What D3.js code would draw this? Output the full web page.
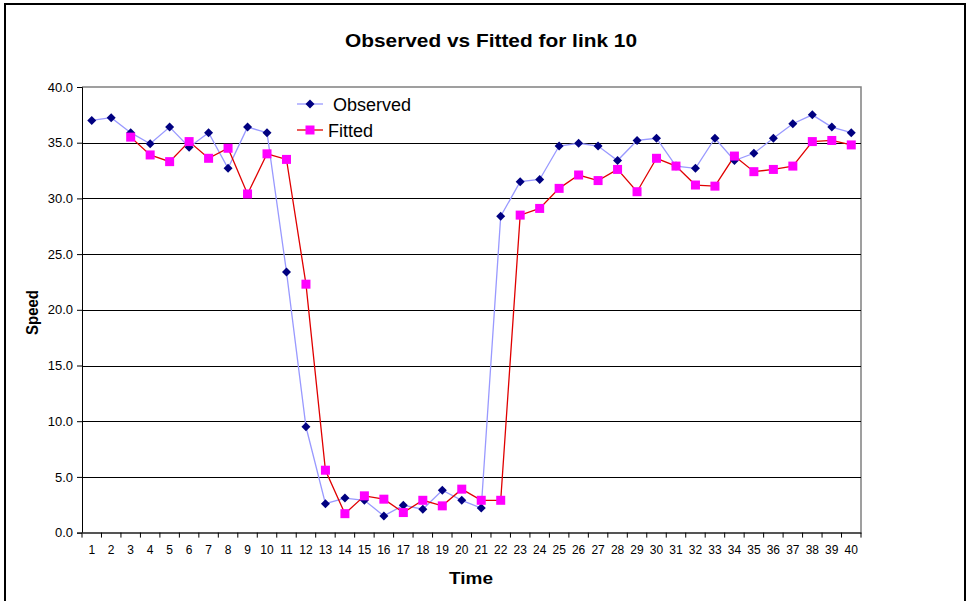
<!DOCTYPE html>
<html><head><meta charset="utf-8">
<script src="https://cdn.jsdelivr.net/npm/d3@7/dist/d3.min.js"></script>
<style>body{margin:0;background:#fff}svg{display:block;font-family:"Liberation Sans",Arial,sans-serif}</style>
</head><body><svg id="c" width="968" height="601"></svg>
<script>
const times = d3.range(1, 41);
const observed = [37.0,37.25,35.9,34.9,36.4,34.6,35.9,32.7,36.4,35.9,23.4,9.5,2.6,3.1,2.9,1.5,2.45,2.1,3.8,2.9,2.2,28.4,31.5,31.7,34.7,34.95,34.7,33.4,35.2,35.4,32.9,32.7,35.4,33.4,34.05,35.4,36.7,37.5,36.4,35.9];
const fitted = [null,null,35.5,33.9,33.3,35.1,33.6,34.5,30.4,34.0,33.5,22.3,5.6,1.7,3.3,3.0,1.8,2.9,2.4,3.9,2.9,2.9,28.5,29.1,30.9,32.1,31.6,32.6,30.6,33.6,32.9,31.2,31.1,33.8,32.4,32.6,32.9,35.1,35.2,34.8];
const yTicks = [0,5,10,15,20,25,30,35,40];

const svg = d3.select("#c");
const L = 82, R = 861, T = 87, B = 532.6;
const x = d3.scaleBand().domain(times).range([L, R]);
const y = d3.scaleLinear().domain([0, 40]).range([B, T]);
const FONT = "Liberation Sans, Arial, sans-serif";

// outer frame
svg.append("rect").attr("x", 5).attr("y", 4).attr("width", 960).attr("height", 620)
  .attr("fill", "none").attr("stroke", "#000").attr("stroke-width", 2);

// plot border (top/right gray)
svg.append("path").attr("d", `M${L},${T}H${R}V${B}`).attr("fill", "none").attr("stroke", "#808080").attr("stroke-width", 1.5);

// gridlines
svg.append("g").selectAll("line").data(yTicks.filter(d => d > 0 && d < 40)).join("line")
  .attr("x1", L).attr("x2", R).attr("y1", d => Math.round(y(d)) + 0.5).attr("y2", d => Math.round(y(d)) + 0.5)
  .attr("stroke", "#000").attr("stroke-width", 1);

// y axis
const ya = svg.append("g").attr("transform", `translate(${L},0)`)
  .call(d3.axisLeft(y).tickValues(yTicks).tickFormat(d3.format(".1f")).tickSize(5).tickPadding(4));
ya.select(".domain").attr("stroke", "#000");
ya.selectAll("text").attr("font-size", 13).attr("fill", "#000").attr("font-family", FONT);

// x axis
const xa = svg.append("g").attr("transform", `translate(0,${B})`)
  .call(d3.axisBottom(x).tickSize(0).tickPadding(13));
xa.select(".domain").attr("stroke", "#555").attr("stroke-width", 2);
xa.selectAll("text").attr("font-size", 12).attr("fill", "#000").attr("font-family", FONT);
svg.append("g").selectAll("line").data(d3.range(0, 41)).join("line")
  .attr("x1", i => L + i * x.step()).attr("x2", i => L + i * x.step())
  .attr("y1", B).attr("y2", B + 5).attr("stroke", "#000");

// lines
const cx = (d, i) => x(times[i]) + x.bandwidth() / 2;
const line = d3.line().defined(d => d != null).x(cx).y(d => y(d));
svg.append("path").datum(observed).attr("d", line).attr("fill", "none").attr("stroke", "#9999FF").attr("stroke-width", 1.3);
svg.append("path").datum(fitted).attr("d", line).attr("fill", "none").attr("stroke", "#E00000").attr("stroke-width", 1.3);

const diamond = "M0,-4.5L4.5,0L0,4.5L-4.5,0Z";
svg.append("g").selectAll("path").data(observed).join("path")
  .attr("transform", (d, i) => `translate(${cx(d, i)},${y(d)})`).attr("d", diamond).attr("fill", "#000080");
svg.append("g").selectAll("rect").data(fitted.map((d, i) => ({d, i})).filter(o => o.d != null)).join("rect")
  .attr("x", o => cx(o.d, o.i) - 4.5).attr("y", o => y(o.d) - 4.5).attr("width", 9).attr("height", 9).attr("fill", "#FF00FF");

// legend
const lg = svg.append("g");
lg.append("line").attr("x1", 297).attr("x2", 323).attr("y1", 104).attr("y2", 104).attr("stroke", "#9999FF").attr("stroke-width", 1.3);
lg.append("path").attr("transform", "translate(310,104)").attr("d", diamond).attr("fill", "#000080");
lg.append("text").attr("x", 333).attr("y", 110.5).attr("font-size", 18).text("Observed");
lg.append("line").attr("x1", 297).attr("x2", 323).attr("y1", 130).attr("y2", 130).attr("stroke", "#E00000").attr("stroke-width", 1.3);
lg.append("rect").attr("x", 305.5).attr("y", 125.5).attr("width", 9).attr("height", 9).attr("fill", "#FF00FF");
lg.append("text").attr("x", 328).attr("y", 136.5).attr("font-size", 18).text("Fitted");

// titles
svg.append("text").attr("x", 345).attr("y", 47).attr("font-size", 18).attr("font-weight", "bold")
  .attr("textLength", 292).attr("lengthAdjust", "spacingAndGlyphs").text("Observed vs Fitted for link 10");
svg.append("text").attr("x", 449).attr("y", 584).attr("font-size", 17).attr("font-weight", "bold")
  .attr("textLength", 44).attr("lengthAdjust", "spacingAndGlyphs").text("Time");
svg.append("text").attr("transform", "translate(38,335) rotate(-90)").attr("font-size", 17).attr("font-weight", "bold")
  .attr("textLength", 45).attr("lengthAdjust", "spacingAndGlyphs").text("Speed");
</script></body></html>
